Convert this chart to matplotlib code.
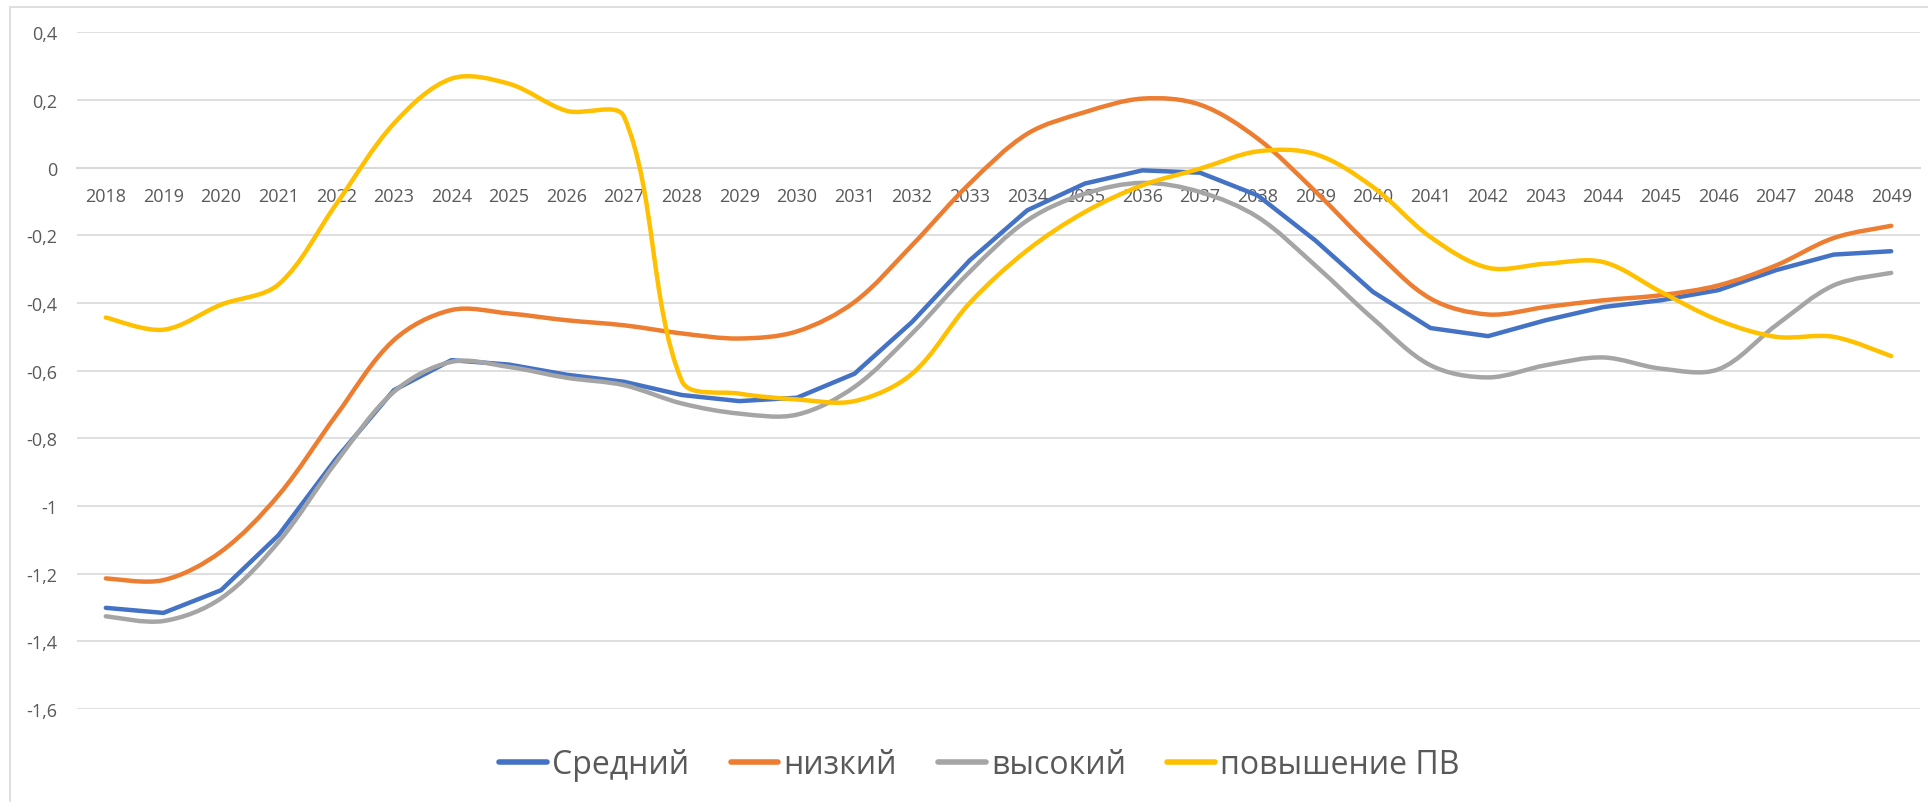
import numpy as np
import matplotlib
matplotlib.use("Agg")
import matplotlib.pyplot as plt
from matplotlib.path import Path
from matplotlib.patches import PathPatch, Rectangle
from matplotlib.lines import Line2D

plt.rcParams['font.family'] = ['Open Sans', 'DejaVu Sans']

years = [str(y) for y in range(2018, 2050)]

srednij = [-1.301, -1.316, -1.249, -1.086, -0.860, -0.658, -0.569, -0.582,
           -0.612, -0.633, -0.672, -0.690, -0.680, -0.609, -0.456, -0.274,
           -0.126, -0.047, -0.008, -0.015, -0.082, -0.215, -0.367, -0.474,
           -0.498, -0.451, -0.412, -0.392, -0.362, -0.303, -0.257, -0.247]
nizkij = [-1.214, -1.219, -1.135, -0.968, -0.732, -0.510, -0.421, -0.431,
          -0.451, -0.466, -0.490, -0.505, -0.484, -0.397, -0.229, -0.047,
          0.100, 0.164, 0.204, 0.186, 0.086, -0.070, -0.240, -0.387,
          -0.434, -0.412, -0.392, -0.377, -0.348, -0.289, -0.208, -0.172]
vysokij = [-1.326, -1.340, -1.273, -1.106, -0.870, -0.663, -0.574, -0.589,
           -0.621, -0.643, -0.697, -0.727, -0.730, -0.648, -0.490, -0.308,
           -0.156, -0.077, -0.045, -0.072, -0.146, -0.289, -0.446, -0.584,
           -0.620, -0.584, -0.561, -0.594, -0.596, -0.466, -0.348, -0.311]
povyshenie = [-0.443, -0.479, -0.405, -0.345, -0.108, 0.130, 0.263, 0.248,
              0.168, 0.150, -0.630, -0.668, -0.685, -0.690, -0.609, -0.400,
              -0.244, -0.131, -0.052, -0.003, 0.048, 0.040, -0.057, -0.205,
              -0.296, -0.284, -0.279, -0.367, -0.451, -0.500, -0.500, -0.557]

labels = ['Средний', 'низкий', 'высокий', 'повышение ПВ']
colors = ['#4472C4', '#ED7D31', '#A5A5A5', '#FFC000']
y_ticks = [-1.6, -1.4, -1.2, -1.0, -0.8, -0.6, -0.4, -0.2, 0.0, 0.2, 0.4]
text_color = '#595959'
grid_color = '#D9D9D9'
lw = 3.2

# pixels per category / per y unit, used so smoothing works in screen space
px_x, px_y = 57.6, 338.5


def smooth_path(x, y):
    # smoothed line like excel: bezier through each point, control arms
    # weighted by the length of the neighbouring segments
    n = len(x)
    sx, sy = x * px_x, y * px_y
    d = np.hypot(np.diff(sx), np.diff(sy))
    t = 1 / 3
    before, after = [], []
    for i in range(n):
        a, b = max(i - 1, 0), min(i + 1, n - 1)
        tx, ty = x[b] - x[a], y[b] - y[a]
        d1 = d[i - 1] if i > 0 else 0.0
        d2 = d[i] if i < n - 1 else 0.0
        if i == 0 or i == n - 1:
            w1 = w2 = 0.5
        else:
            w1, w2 = d1 / (d1 + d2), d2 / (d1 + d2)
        before.append((x[i] - tx * t * w1, y[i] - ty * t * w1))
        after.append((x[i] + tx * t * w2, y[i] + ty * t * w2))
    verts = [(x[0], y[0])]
    codes = [Path.MOVETO]
    for i in range(n - 1):
        verts += [after[i], before[i + 1], (x[i + 1], y[i + 1])]
        codes += [Path.CURVE4] * 3
    return Path(verts, codes)


fig = plt.figure(figsize=(19.28, 8.03), dpi=100)
ax = fig.add_axes([77 / 1928, 1 - 710 / 803, 1843 / 1928, (710 - 33.3) / 803])

x = np.arange(len(years), dtype=float)
ax.plot(x, srednij, color=colors[0], lw=lw, solid_capstyle='round',
        solid_joinstyle='round', zorder=3)
for i, series in enumerate([nizkij, vysokij, povyshenie]):
    ax.add_patch(PathPatch(smooth_path(x, np.array(series)), fill=False,
                           edgecolor=colors[i + 1], lw=lw, capstyle='round',
                           joinstyle='round', zorder=4 + i))

ax.set_xlim(-0.5, len(years) - 0.5)
ax.set_ylim(-1.6, 0.4)
ax.set_yticks(y_ticks)
ax.set_yticklabels([('%g' % v).replace('.', ',') for v in y_ticks])
ax.set_xticks(x)
ax.set_xticklabels(years)
ax.grid(axis='y', color=grid_color, lw=1.2, zorder=0)
ax.set_axisbelow(True)

for s in ['top', 'right', 'left']:
    ax.spines[s].set_visible(False)
ax.spines['bottom'].set_position(('data', 0))
ax.spines['bottom'].set_color(grid_color)
ax.spines['bottom'].set_linewidth(1.5)
ax.spines['bottom'].set_zorder(1)

ax.tick_params(axis='x', length=0, pad=14, labelsize=13, colors=text_color)
ax.tick_params(axis='y', length=0, pad=14, labelsize=13, colors=text_color)

handles = [Line2D([], [], color=c, lw=4, solid_capstyle='round') for c in colors]
fig.legend(handles, labels, loc='center', bbox_to_anchor=(0.508, 1 - 766 / 803),
           ncol=4, frameon=False, fontsize=23, handlelength=1.5,
           handletextpad=0.15, columnspacing=1.3, labelcolor=text_color)

fig.patches.append(Rectangle((10 / 1928, -0.1), 2, 1.1 - 8 / 803,
                             transform=fig.transFigure, fill=False,
                             edgecolor=grid_color, lw=1.2))

fig.savefig('out.png', dpi=100)
